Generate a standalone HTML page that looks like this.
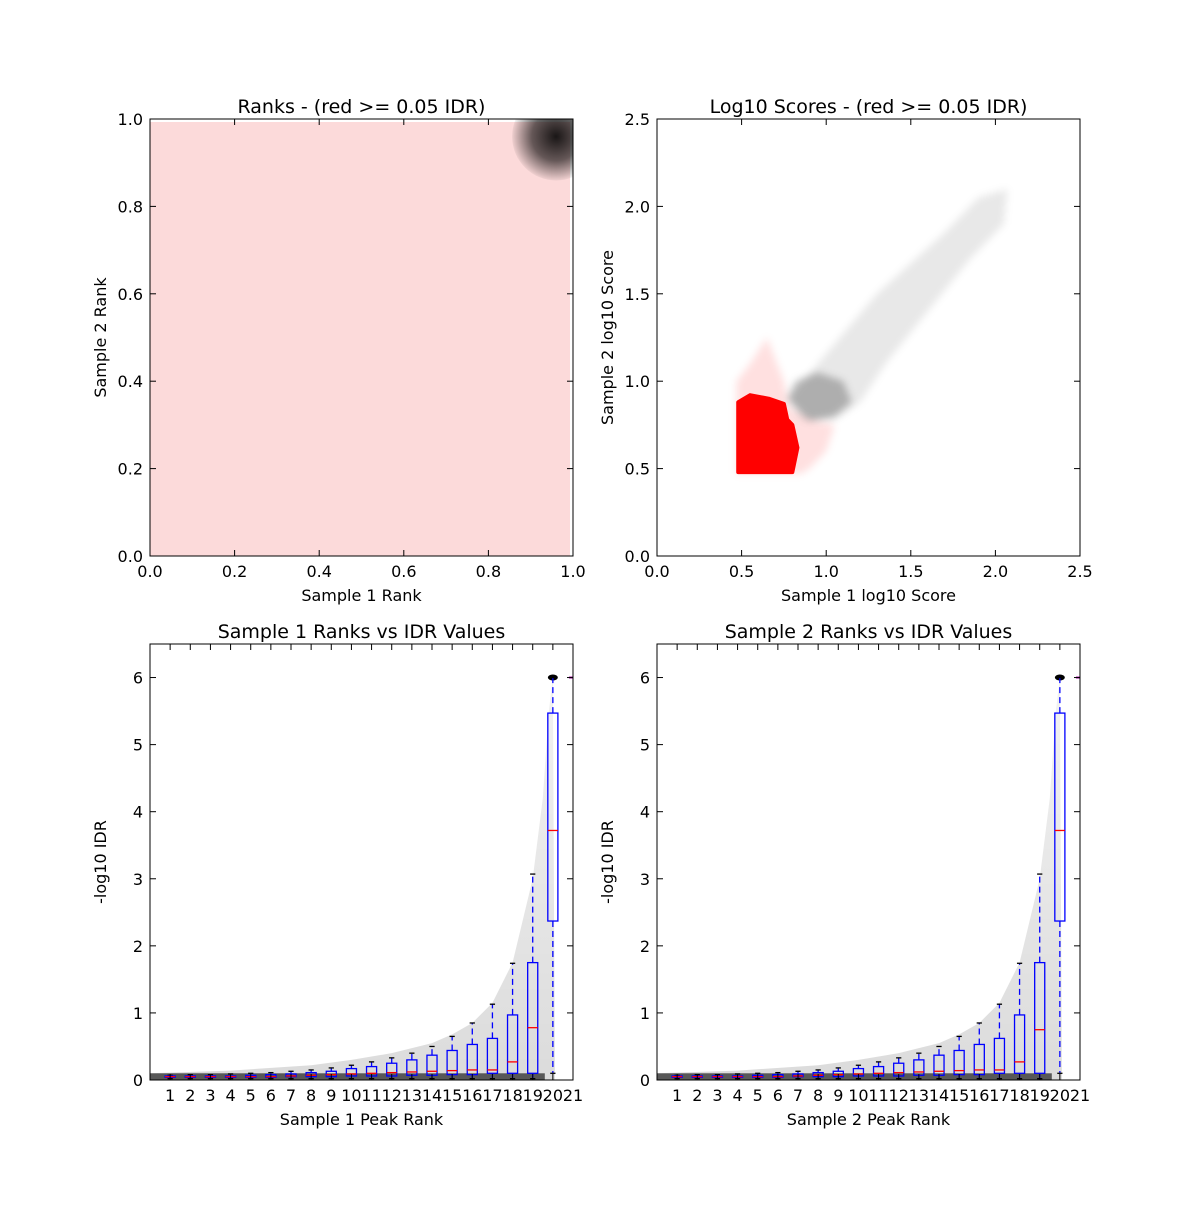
<!DOCTYPE html>
<html><head><meta charset="utf-8"><style>
body{margin:0;background:#fff}
svg text{font-family:"DejaVu Sans","Liberation Sans",sans-serif;fill:#000}
</style></head><body>
<svg id="fig" width="1200" height="1200" xmlns="http://www.w3.org/2000/svg">
<defs>
<radialGradient id="blk" cx="0.5" cy="0.5" r="0.5"><stop offset="0" stop-color="#000" stop-opacity="0.9"/><stop offset="0.55" stop-color="#000" stop-opacity="0.6"/><stop offset="1" stop-color="#000" stop-opacity="0.05"/></radialGradient>
<linearGradient id="env" x1="0" y1="1" x2="0" y2="0"><stop offset="0" stop-color="#000" stop-opacity="0.14"/><stop offset="1" stop-color="#000" stop-opacity="0.05"/></linearGradient>
<clipPath id="clipTL"><rect x="150" y="119" width="423" height="437"/></clipPath>
<filter id="soft" x="-20%" y="-20%" width="140%" height="140%"><feGaussianBlur stdDeviation="4"/></filter>
</defs>
</svg>
<script>
// ---- data ----
const boxPositions=[1,2,3,4,5,6,7,8,9,10,11,12,13,14,15,16,17,18,19,20];
const boxQ1=[0.04,0.04,0.04,0.04,0.04,0.04,0.05,0.05,0.05,0.06,0.06,0.06,0.07,0.07,0.08,0.08,0.1,0.1,0.1,2.37];
const boxQ3=[0.06,0.06,0.06,0.06,0.07,0.08,0.09,0.11,0.13,0.17,0.2,0.25,0.3,0.37,0.44,0.53,0.62,0.97,1.75,5.47];
const boxMedS1=[0.05,0.05,0.05,0.05,0.05,0.05,0.06,0.07,0.08,0.09,0.1,0.11,0.12,0.13,0.14,0.15,0.15,0.27,0.78,3.72];
const boxMedS2=[0.05,0.05,0.05,0.05,0.05,0.05,0.06,0.07,0.08,0.09,0.1,0.11,0.12,0.13,0.14,0.15,0.15,0.27,0.75,3.72];
const whiskTop=[0.07,0.08,0.08,0.09,0.1,0.11,0.13,0.15,0.18,0.22,0.27,0.33,0.4,0.5,0.65,0.85,1.13,1.74,3.07,6.0];
const whiskBot=[0.02,0.02,0.02,0.02,0.02,0.02,0.02,0.02,0.02,0.02,0.02,0.02,0.02,0.02,0.02,0.02,0.02,0.02,0.02,0.1];
const envX=[0,4,8,10,12,14,15,16,17,18,19,19.5,19.8,20];
const envY=[0.1,0.14,0.22,0.3,0.4,0.55,0.68,0.85,1.15,1.75,3.0,4.2,5.5,6.0];
const xTicks01=[0,0.2,0.4,0.6,0.8,1.0];
const ticks25=[0,0.5,1.0,1.5,2.0,2.5];
const yTicksIdr=[0,1,2,3,4,5,6];
const xTicksRank=[1,2,3,4,5,6,7,8,9,10,11,12,13,14,15,16,17,18,19,20,21];

const svg=document.getElementById('fig');
const NS='http://www.w3.org/2000/svg';
function mk(tag,at,parent){const e=document.createElementNS(NS,tag);for(const k in at)e.setAttribute(k,at[k]);(parent||svg).appendChild(e);return e;}
function txt(s,x,y,size,anchor,parent,rot){const t=mk('text',{x:x,y:y,'font-size':size,'text-anchor':anchor||'middle'},parent);if(rot)t.setAttribute('transform','rotate(-90 '+x+' '+y+')');t.textContent=s;return t;}
function fmt(v,d){return v.toFixed(d);}

function axes(name,L,T,W,H,xmin,xmax,ymin,ymax){
  const g=mk('g',{});
  
  
  const sx=v=>L+(v-xmin)/(xmax-xmin)*W, sy=v=>T+H-(v-ymin)/(ymax-ymin)*H;
  return {g,sx,sy,L,T,W,H};
}
function frame(a,xt,xd,yt,yd,title,xl,yl){
  const f=mk('rect',{x:a.L,y:a.T,width:a.W,height:a.H,fill:'none',stroke:'#000','stroke-width':1},a.g);
  
  xt.forEach(v=>{const x=a.sx(v);mk('line',{x1:x,x2:x,y1:a.T+a.H,y2:a.T+a.H-6,stroke:'#000'},a.g);mk('line',{x1:x,x2:x,y1:a.T,y2:a.T+6,stroke:'#000'},a.g);
    const t=txt(xd==null?String(v):fmt(v,xd),x,a.T+a.H+21,16,'middle',a.g);});
  yt.forEach(v=>{const y=a.sy(v);mk('line',{x1:a.L,x2:a.L+6,y1:y,y2:y,stroke:'#000'},a.g);mk('line',{x1:a.L+a.W,x2:a.L+a.W-6,y1:y,y2:y,stroke:'#000'},a.g);
    const t=txt(yd==null?String(v):fmt(v,yd),a.L-7,y+6,16,'end',a.g);});
  let t=txt(title,a.L+a.W/2,a.T-6,19,'middle',a.g);
  t=txt(xl,a.L+a.W/2,a.T+a.H+45,16,'middle',a.g);
  t=txt(yl,a.L-44,a.T+a.H/2,16,'middle',a.g,true);
}

// ---- Panel 1: ranks ----
let a=axes('ranks-scatter',150,119,423,437,0,1,0,1);
const clipG=mk('g',{'clip-path':'url(#clipTL)'},a.g);
let e=mk('rect',{x:a.L,y:a.T+3,width:a.W-3,height:a.H-3,fill:'#fcdada'},clipG);

e=mk('ellipse',{cx:a.sx(0.96),cy:a.sy(0.96),rx:44,ry:44,fill:'url(#blk)'},clipG);

frame(a,xTicks01,1,xTicks01,1,'Ranks - (red >= 0.05 IDR)','Sample 1 Rank','Sample 2 Rank');

// ---- Panel 2: log10 scores ----
a=axes('scores-scatter',657,119,423,437,0,2.5,0,2.5);
const grayPoly=[[0.78,0.9],[0.95,1.1],[1.3,1.5],[1.7,1.85],[1.9,2.05],[2.07,2.1],[2.05,1.9],[1.85,1.7],[1.6,1.4],[1.35,1.1],[1.2,0.88],[1.05,0.78],[0.85,0.78]];
e=mk('polygon',{points:grayPoly.map(p=>a.sx(p[0])+','+a.sy(p[1])).join(' '),fill:'#000','fill-opacity':0.09,filter:'url(#soft)'},a.g);

const denseGray=[[0.77,0.9],[0.82,1.0],[0.95,1.05],[1.1,1.0],[1.15,0.88],[1.05,0.8],[0.9,0.77]];
e=mk('polygon',{points:denseGray.map(p=>a.sx(p[0])+','+a.sy(p[1])).join(' '),fill:'#000','fill-opacity':0.25,filter:'url(#soft)'},a.g);

const redHalo=[[0.47,0.47],[0.47,1.0],[0.55,1.1],[0.65,1.25],[0.75,1.0],[0.78,0.85],[0.9,0.78],[1.05,0.75],[1.0,0.6],[0.9,0.5],[0.85,0.47]];
e=mk('polygon',{points:redHalo.map(p=>a.sx(p[0])+','+a.sy(p[1])).join(' '),fill:'#f00','fill-opacity':0.12,filter:'url(#soft)'},a.g);

const redCore=[[0.48,0.48],[0.48,0.88],[0.55,0.92],[0.66,0.9],[0.75,0.87],[0.77,0.78],[0.8,0.75],[0.83,0.62],[0.8,0.48]];
e=mk('polygon',{points:redCore.map(p=>a.sx(p[0])+','+a.sy(p[1])).join(' '),fill:'#f00','stroke':'#f00','stroke-linejoin':'round','stroke-width':4},a.g);

frame(a,ticks25,1,ticks25,1,'Log10 Scores - (red >= 0.05 IDR)','Sample 1 log10 Score','Sample 2 log10 Score');

// ---- Panels 3 & 4: box plots ----
function boxPanel(name,L,meds,title,xl){
  const a=axes(name,L,644,423,436,0,21,0,6.5);
  let d='M'+a.sx(envX[0])+','+a.sy(0);
  envX.forEach((x,i)=>{d+=' L'+a.sx(x)+','+a.sy(envY[i]);});
  d+=' L'+a.sx(20.1)+','+a.sy(0)+' Z';
  let e=mk('path',{d:d,fill:'url(#env)'},a.g);
  
  e=mk('rect',{x:a.sx(0),y:a.sy(0.1),width:a.sx(19.6)-a.sx(0),height:a.sy(0)-a.sy(0.1),fill:'#000','fill-opacity':0.6},a.g);
  
  e=mk('ellipse',{cx:a.sx(20),cy:a.sy(6),rx:5,ry:3,fill:'#000'},a.g);
  
  e=mk('line',{x1:a.sx(20.8),x2:a.sx(21),y1:a.sy(6),y2:a.sy(6),stroke:'#a0a','stroke-width':2},a.g);
  
  const bw=a.sx(0.25)-a.sx(0), cw=a.sx(0.13)-a.sx(0);
  boxPositions.forEach((p,i)=>{
    const bg=mk('g',{},a.g);
    
    const x=a.sx(p);
    mk('line',{x1:x,x2:x,y1:a.sy(boxQ3[i]),y2:a.sy(whiskTop[i]),stroke:'#00f','stroke-dasharray':'6,4','stroke-width':1.3},bg);
    mk('line',{x1:x,x2:x,y1:a.sy(boxQ1[i]),y2:a.sy(whiskBot[i]),stroke:'#00f','stroke-dasharray':'6,4','stroke-width':1.3},bg);
    mk('line',{x1:x-cw,x2:x+cw,y1:a.sy(whiskTop[i]),y2:a.sy(whiskTop[i]),stroke:'#000','stroke-width':1.3},bg);
    mk('line',{x1:x-cw,x2:x+cw,y1:a.sy(whiskBot[i]),y2:a.sy(whiskBot[i]),stroke:'#000','stroke-width':1.3},bg);
    mk('rect',{x:x-bw,y:a.sy(boxQ3[i]),width:2*bw,height:a.sy(boxQ1[i])-a.sy(boxQ3[i]),fill:'none',stroke:'#00f','stroke-width':1.3},bg);
    mk('line',{x1:x-bw,x2:x+bw,y1:a.sy(meds[i]),y2:a.sy(meds[i]),stroke:'#f00','stroke-width':1.3},bg);
  });
  frame(a,xTicksRank,null,yTicksIdr,null,title,xl,'-log10 IDR');
}
boxPanel('sample1-idr-boxplot',150,boxMedS1,'Sample 1 Ranks vs IDR Values','Sample 1 Peak Rank');
boxPanel('sample2-idr-boxplot',657,boxMedS2,'Sample 2 Ranks vs IDR Values','Sample 2 Peak Rank');
</script>
</body></html>
